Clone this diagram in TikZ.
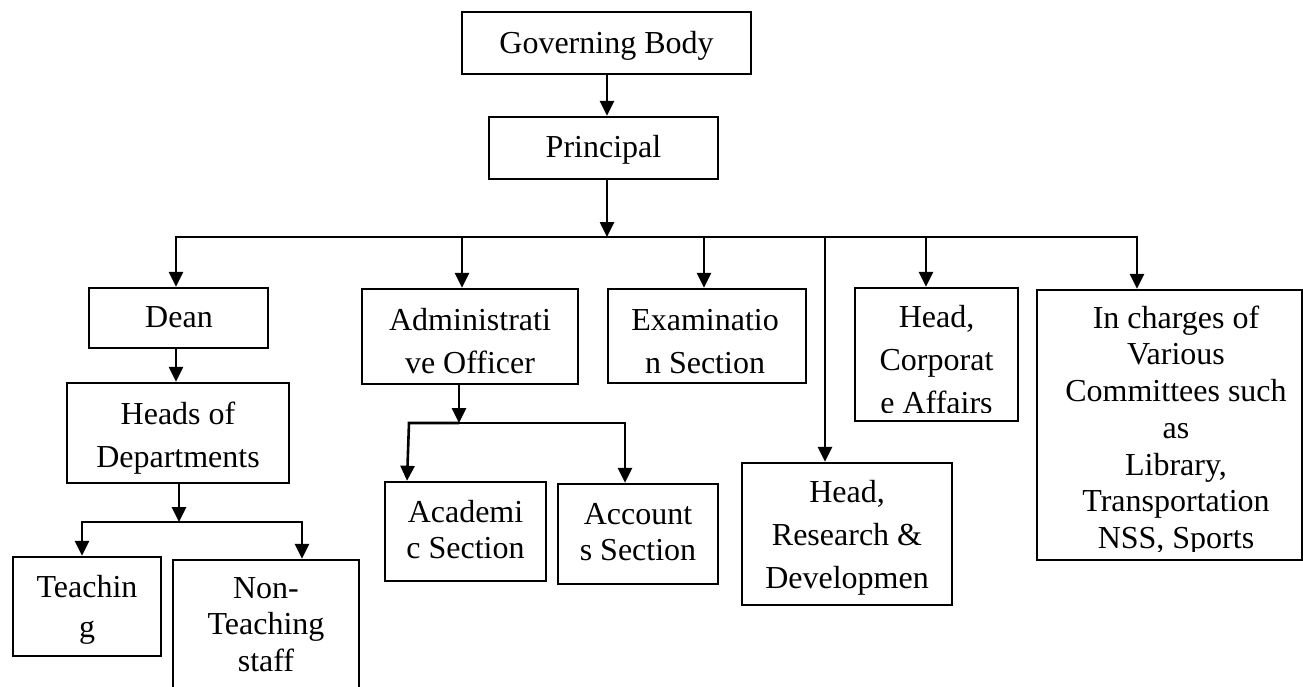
\documentclass[tikz,border=0pt]{standalone}
\usepackage{fontspec}
\setmainfont{Liberation Serif}
\usetikzlibrary{arrows.meta}
\newcommand\mybox[5]{\node[box, minimum width={(#4-#2)*1pt}, minimum height={(#5-#3)*1pt}] (#1) at ({(#2+#4)/2},{(#3+#5)/2}) {};}
\newcommand\mytext[5]{\node[lbl,#4] (#1) at (#2,{#3-25}) {\rule{0pt}{25pt}#5};}
\begin{document}
\begin{tikzpicture}[x=1pt,y=-1pt,
  box/.style={draw, line width=2.4pt, inner sep=0pt, rectangle},
  lbl/.style={inner sep=0pt, anchor=north, align=center, font=\fontsize{32}{37}\selectfont},
  sp43/.style={font=\fontsize{32}{43}\selectfont},
  sp40/.style={font=\fontsize{32}{40}\selectfont},
  sp37/.style={font=\fontsize{32}{36.7}\selectfont},
  conn/.style={line width=2.6pt},
  arr/.style={conn, -{Triangle[length=15pt,width=14pt]}}]
\useasboundingbox (0,0) rectangle (1303,686);
\clip (0,0) rectangle (1303,686);
% boxes
\mybox{gb}{462}{12}{751}{74}
\mybox{pr}{489}{117}{718}{179}
\mybox{dean}{89}{288}{268}{348}
\mybox{heads}{67}{383}{289}{483}
\mybox{teach}{13}{557}{161}{656}
\mybox{nont}{173}{560}{359}{720}
\mybox{admin}{362}{289}{578}{384}
\mybox{acad}{385}{482}{546}{581}
\mybox{acct}{558}{484}{718}{584}
\mybox{exam}{608}{289}{806}{383}
\mybox{corp}{855}{288}{1018}{421}
\mybox{rd}{742}{463}{952}{605}
\mybox{comm}{1037}{290}{1302}{560}
% texts
\mytext{gbT}{606.5}{53}{}{Governing Body}
\mytext{prT}{603.5}{157}{}{Principal}
\mytext{deanT}{179}{327}{}{Dean}
\mytext{headsT}{178}{424}{sp43}{Heads of\\Departments}
\mytext{teachT}{87}{597}{sp40}{Teachin\\g}
\mytext{nontT}{266}{598}{sp37}{Non-\\Teaching\\staff}
\mytext{adminT}{470}{330}{sp43}{Administrati\\ve Officer}
\mytext{examT}{705}{330}{sp43}{Examinatio\\n Section}
\mytext{acadT}{465.5}{522}{sp37}{Academi\\c Section}
\mytext{acctT}{638}{524}{sp37}{Account\\s Section}
\mytext{rdT}{847}{502}{sp43}{Head,\\Research \&\\Developmen}
\begin{scope}
\clip (855,288) rectangle (1018,412);
\mytext{corpT}{936.5}{327}{sp43}{Head,\\Corporat\\e Affairs}
\end{scope}
\begin{scope}
\clip (1037,290) rectangle (1302,551);
\mytext{commT}{1176}{328}{sp37}{In charges of\\Various\\Committees such\\as\\Library,\\Transportation\\NSS, Sports}
\end{scope}
% coordinates
\coordinate (gj) at (607,0);
\coordinate (pj) at (607,237);
\coordinate (busL) at (176,237);
\coordinate (busR) at (1137,237);
\coordinate (aj) at (462,237);
\coordinate (ej) at (704,237);
\coordinate (rj) at (825,237);
\coordinate (cj) at (926,237);
\coordinate (hj) at (179,522);
\coordinate (tl) at (82,522);
\coordinate (tr) at (302,522);
\coordinate (ajb) at (459,423);
\coordinate (al) at (409,423);
\coordinate (alx) at (407,0);
\coordinate (ar) at (625,423);
% connectors
\draw[arr] (gb.south -| gj) -- (pr.north -| gj);
\draw[arr] (pr.south -| pj) -- (pj);
\draw[arr] (pj) -- (busL) -- (dean.north -| busL);
\draw[arr] (pj) -- (busR) -- (comm.north -| busR);
\draw[arr] (aj) -- (admin.north -| aj);
\draw[arr] (ej) -- (exam.north -| ej);
\draw[arr] (rj) -- (rd.north -| rj);
\draw[arr] (cj) -- (corp.north -| cj);
\draw[arr] (dean.south -| busL) -- (heads.north -| busL);
\draw[arr] (heads.south -| hj) -- (hj);
\draw[arr] (hj) -- (tl) -- (teach.north -| tl);
\draw[arr] (hj) -- (tr) -- (nont.north -| tr);
\draw[arr] (admin.south -| ajb) -- (ajb);
\draw[arr] (ajb) -- (al) -- (acad.north -| alx);
\draw[arr] (ajb) -- (ar) -- (acct.north -| ar);
\end{tikzpicture}
\end{document}
